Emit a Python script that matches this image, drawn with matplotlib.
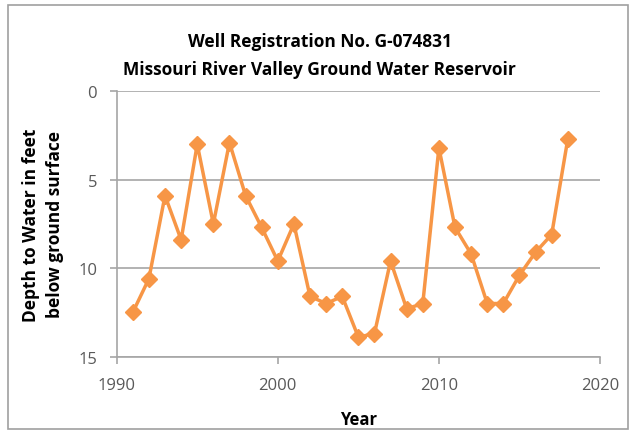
import matplotlib.pyplot as plt
from matplotlib.patches import Rectangle

years = [1991, 1992, 1993, 1994, 1995, 1996, 1997, 1998, 1999, 2000,
         2001, 2002, 2003, 2004, 2005, 2006, 2007, 2008, 2009, 2010,
         2011, 2012, 2013, 2014, 2015, 2016, 2017, 2018]
depth = [12.5, 10.6, 5.9, 8.4, 3.0, 7.5, 2.9, 5.9, 7.7, 9.6,
         7.5, 11.6, 12.0, 11.6, 13.9, 13.7, 9.6, 12.3, 12.0, 3.2,
         7.7, 9.2, 12.0, 12.0, 10.4, 9.1, 8.1, 2.7]
xticks = [1990, 2000, 2010, 2020]
yticks = [0, 5, 10, 15]

plt.rcParams['font.family'] = ['Open Sans', 'DejaVu Sans']

fig = plt.figure(figsize=(6.39, 4.35), dpi=100)
fig.patches.append(Rectangle((0.013, 0.012), 0.97, 0.975, transform=fig.transFigure,
                             fill=False, edgecolor='#a0a0a0', linewidth=1.2))
ax = fig.add_axes([0.1826, 0.178, 0.7564, 0.61])

ax.plot(years, depth, color='#F79646', linewidth=2.5, marker='D', markersize=8,
        markerfacecolor='#F79646', markeredgecolor='#F79646', zorder=3)

ax.set_xlim(1990, 2020)
ax.set_ylim(15, 0)
ax.set_xticks(xticks)
ax.set_yticks(yticks)
ax.grid(axis='y', color='#a6a6a6', linewidth=1.2)
ax.set_axisbelow(True)
for s in ['top', 'right']:
    ax.spines[s].set_visible(False)
for s in ['left', 'bottom']:
    ax.spines[s].set_color('#a6a6a6')
    ax.spines[s].set_linewidth(1.2)
ax.tick_params(axis='both', colors='#a6a6a6', labelcolor='#595959', labelsize=12,
               length=5, width=1.2)
ax.tick_params(axis='y', pad=9)
ax.tick_params(axis='x', pad=10)

ax.set_xlabel('Year', fontsize=12, fontweight='bold', labelpad=12)
ax.set_ylabel('Depth to Water in feet\nbelow ground surface', fontsize=12.5,
              fontweight='bold', labelpad=10, linespacing=1.45)
fig.text(0.5, 0.903, 'Well Registration No. G-074831', ha='center', va='center',
         fontsize=12.5, fontweight='bold')
fig.text(0.5, 0.839, 'Missouri River Valley Ground Water Reservoir', ha='center',
         va='center', fontsize=12.5, fontweight='bold')

fig.savefig('out.png', dpi=100)
